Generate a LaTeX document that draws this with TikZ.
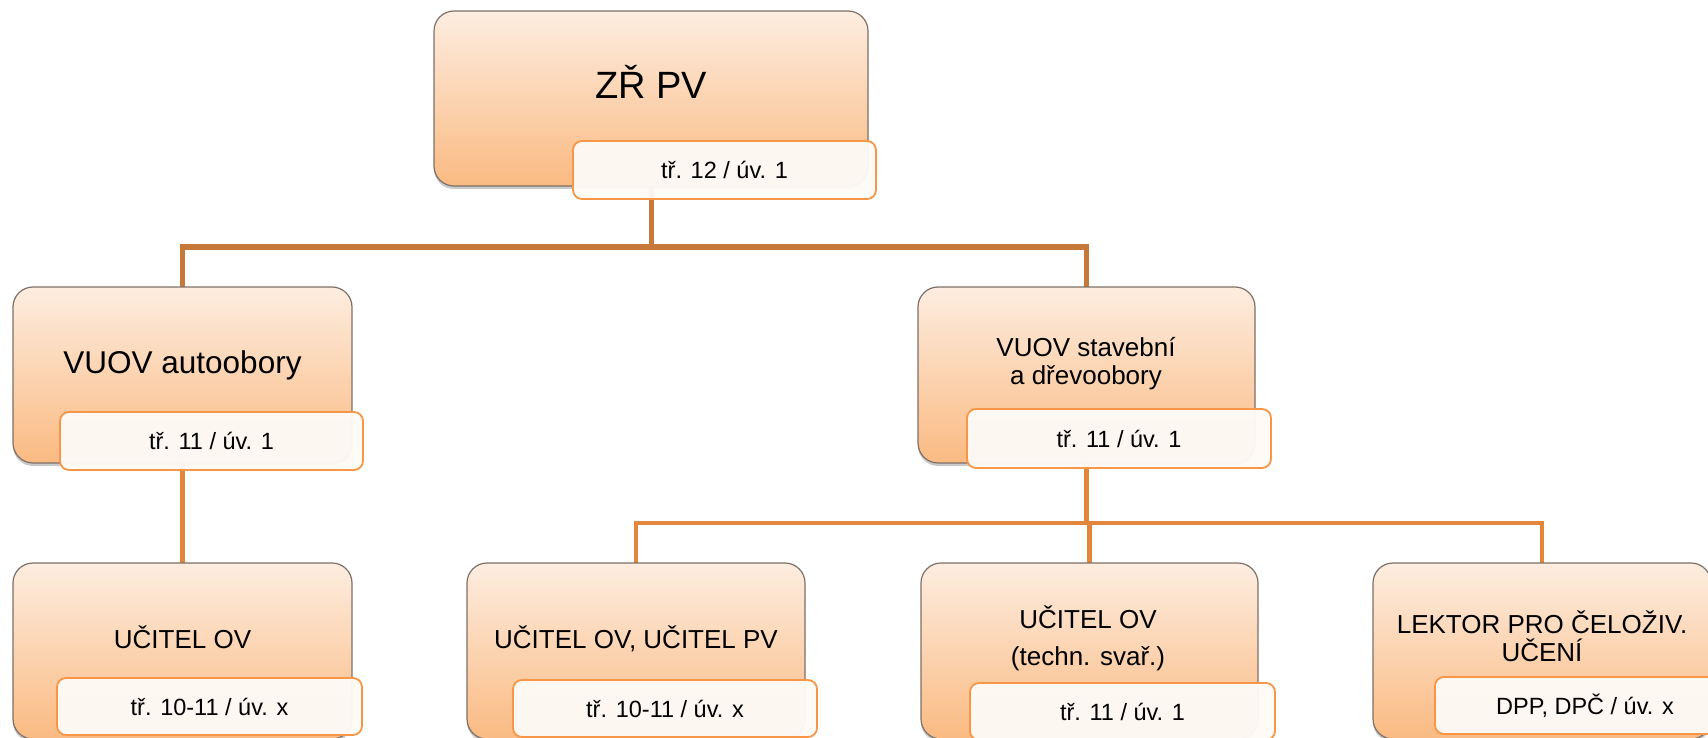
\documentclass[tikz,border=0pt]{standalone}
\usepackage{fontspec}
\setmainfont{Liberation Sans}
\usetikzlibrary{shadows,backgrounds}
\definecolor{boxtop}{RGB}{253,237,224}
\definecolor{boxbot}{RGB}{250,186,130}
\definecolor{boxedge}{RGB}{125,112,104}
\definecolor{lblfill}{RGB}{254,250,246}
\definecolor{lbledge}{RGB}{247,150,70}
\definecolor{linkA}{RGB}{198,121,56}
\definecolor{linkB}{RGB}{226,134,60}
\tikzset{
  mainbox/.style={draw=boxedge, line width=1.2pt, rounded corners=20pt,
    top color=boxtop, bottom color=boxbot, minimum height=176pt,
    inner sep=0pt, outer sep=0pt,
    drop shadow={shadow xshift=0pt, shadow yshift=-3pt, opacity=0.3, fill=black!70}},
  lblbox/.style={draw=lbledge, line width=1.8pt, rounded corners=9pt,
    fill=lblfill, fill opacity=0.96, text opacity=1, minimum width=304pt,
    minimum height=57pt, inner sep=0pt, outer sep=0pt,
    font=\fontsize{23.5}{28}\selectfont},
  boxtext/.style={align=center, inner sep=0pt, font=\fontsize{26}{28}\selectfont},
  linkone/.style={draw=linkA, line width=5pt},
  linktwo/.style={draw=linkB, line width=4.5pt},
}
\begin{document}
\begin{tikzpicture}[x=1pt,y=-1pt]
\useasboundingbox (0,0) rectangle (1708,738);
\clip (0,0) rectangle (1708,738);

% main boxes
\node[mainbox, minimum width=434pt, minimum height=175pt] (t0) at (651,98.5) {};
\node[mainbox, minimum width=339pt] (l2a) at (182.5,375) {};
\node[mainbox, minimum width=337pt] (l2b) at (1086.5,375) {};
\node[mainbox, minimum width=339pt] (l3a) at (182.5,651) {};
\node[mainbox, minimum width=338pt] (l3b) at (636,651) {};
\node[mainbox, minimum width=337pt] (l3c) at (1089.5,651) {};
\node[mainbox, minimum width=338pt] (l3d) at (1542,651) {};

% texts of main boxes
\node[boxtext, anchor=base, font=\fontsize{38}{44}\selectfont] (t0t) at (651,99) {ZŘ PV};
\node[boxtext, anchor=base, font=\fontsize{31.5}{36}\selectfont] (l2at) at (182.5,373) {VUOV autoobory};
\node[boxtext] (l2bt) at (1086,364) {VUOV stavební\\a dřevoobory};
\node[boxtext, anchor=base] (l3at) at (182.5,648) {UČITEL OV};
\node[boxtext, anchor=base] (l3bt) at (636,648) {UČITEL OV, UČITEL PV};
\node[boxtext, font=\fontsize{26}{37}\selectfont] (l3ct) at (1088,638) {UČITEL OV\\(techn. svař.)};
\node[boxtext] (l3dt) at (1542,636) {LEKTOR PRO ČELOŽIV.\\UČENÍ};

% label boxes
\node[lblbox, minimum width=303pt, minimum height=58pt] (t0l) at (724.5,170) {tř. 12 / úv. 1};
\node[lblbox, minimum width=303pt, minimum height=58pt] (l2al) at (211.5,441) {tř. 11 / úv. 1};
\node[lblbox, minimum height=59pt] (l2bl) at (1119,438.5) {tř. 11 / úv. 1};
\node[lblbox, minimum width=305pt] (l3al) at (209.5,706.5) {tř. 10-11 / úv. x};
\node[lblbox] (l3bl) at (665,708.5) {tř. 10-11 / úv. x};
\node[lblbox, minimum width=305pt] (l3cl) at (1122.5,711.5) {tř. 11 / úv. 1};
\node[lblbox, minimum width=300pt] (l3dl) at (1585,705.5) {DPP, DPČ / úv. x};

% connectors
\coordinate (bus1) at (651,247);
\coordinate (bus2) at (1086.5,523);
\begin{pgfonlayer}{background}
\draw[linkone] (t0.south) -- (bus1);
\draw[linkone] (l2a.north) |- (bus1) -| (l2b.north);
\draw[linktwo] (l2a.south) -- (l3a.north);
\draw[linktwo] (l2b.south) -- (bus2);
\draw[linktwo] (l3b.north) |- (bus2) -| (l3d.north);
\draw[linktwo] (bus2 -| l3c.north) -- (l3c.north);
\end{pgfonlayer}
\end{tikzpicture}
\end{document}
